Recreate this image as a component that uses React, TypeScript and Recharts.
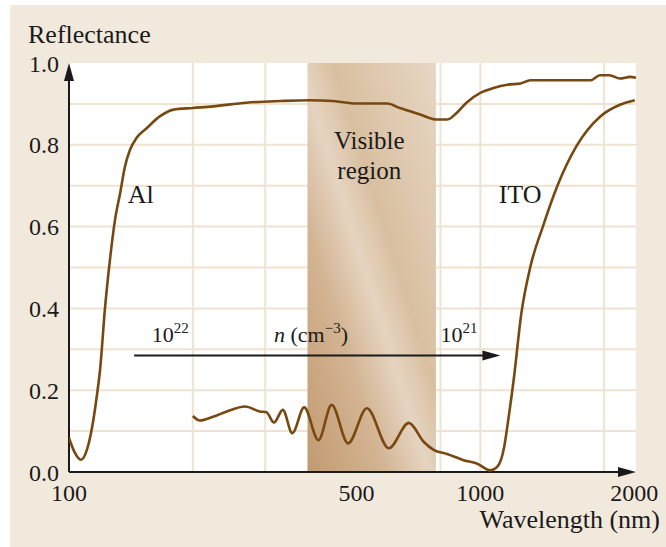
import React from "react";
import {
  LineChart,
  Line,
  XAxis,
  YAxis,
  CartesianGrid,
  ReferenceArea,
  ReferenceLine,
  ReferenceDot,
} from "recharts";

// Al reflectance: [wavelength nm, reflectance]
const alWavelength = [
  100, 103, 107, 111, 114.6, 117, 119, 122.3, 125.8, 129.4, 133.2, 136.8, 140.7,
  146, 154.6, 166.5, 179.5, 200, 224, 270, 326, 385, 439, 501, 594, 637, 675,
  714, 782, 832, 876, 925, 1000, 1077, 1163, 1253, 1323, 1487, 1855, 1953, 2060,
  2185, 2312, 2390,
];
const alReflectance = [
  0.083, 0.05, 0.03, 0.06, 0.127, 0.19, 0.25, 0.4, 0.52, 0.617, 0.683, 0.747,
  0.788, 0.817, 0.841, 0.87, 0.886, 0.89, 0.894, 0.903, 0.907, 0.909, 0.907,
  0.901, 0.901, 0.89, 0.882, 0.874, 0.862, 0.862, 0.878, 0.903, 0.927, 0.939,
  0.947, 0.95, 0.958, 0.958, 0.958, 0.97, 0.97, 0.962, 0.966, 0.964,
];

// ITO reflectance
const itoWavelength = [
  200, 208, 224, 242, 268, 291, 302, 315, 331, 349, 373, 404, 435, 477, 530, 599,
  670, 728, 770, 830, 910, 980, 1058, 1100, 1143, 1170, 1205, 1258, 1324, 1419,
  1537, 1711, 1960, 2185, 2374,
];
const itoReflectance = [
  0.137, 0.126, 0.135, 0.148, 0.16, 0.148, 0.146, 0.121, 0.152, 0.095, 0.158,
  0.078, 0.164, 0.07, 0.156, 0.058, 0.12, 0.074, 0.054, 0.044, 0.029, 0.021,
  0.004, 0.013, 0.062, 0.13, 0.225, 0.388, 0.503, 0.6, 0.698, 0.796, 0.87,
  0.898, 0.909,
];

const xTicks = [100, 500, 1000, 2000];
const yTicks = [0, 0.2, 0.4, 0.6, 0.8, 1.0];
const gridX = [200, 300, 400, 500, 600, 700, 800, 900, 1000, 2000];
const gridY = [0.1, 0.2, 0.3, 0.4, 0.5, 0.6, 0.7, 0.8, 0.9];
const visibleRange = [380, 780];
const xMax = 2390;

const alData = alWavelength.map((x, i) => ({ x, r: alReflectance[i] }));
const itoData = itoWavelength.map((x, i) => ({ x, r: itoReflectance[i] }));

const serif = "'Liberation Serif', 'DejaVu Serif', serif";
const curve = "#77480f";
const ink = "#1a1a1a";

function Arrow(props: any) {
  const { x1, y1, x2, y2 } = props;
  const dx = x2 - x1;
  const dy = y2 - y1;
  const len = Math.sqrt(dx * dx + dy * dy) || 1;
  const ux = dx / len;
  const uy = dy / len;
  const head = 18;
  const half = 5;
  const bx = x2 - ux * head;
  const by = y2 - uy * head;
  const pts = `${x2},${y2} ${bx - uy * half},${by + ux * half} ${bx + uy * half},${by - ux * half}`;
  return (
    <g>
      <line x1={x1} y1={y1} x2={bx + ux * 2} y2={by + uy * 2} stroke={ink} strokeWidth={2} />
      <polygon points={pts} fill={ink} />
    </g>
  );
}

function XTick(props: any) {
  const { x, y, payload } = props;
  const shift = payload.value === 2000 ? 30 : 0;
  return (
    <text x={x + shift} y={y + 4} dy="0.71em" textAnchor="middle" fontFamily={serif} fontSize={24} fill={ink}>
      {payload.value}
    </text>
  );
}

function YTick(props: any) {
  const { x, y, payload } = props;
  return (
    <text x={x - 2} y={y} dy="0.355em" textAnchor="end" fontFamily={serif} fontSize={24} fill={ink}>
      {Number(payload.value).toFixed(1)}
    </text>
  );
}

function note(key: string, x: number, y: number, content: React.ReactNode, anchor = "start", size = 26) {
  return (
    <ReferenceDot
      key={key}
      x={x}
      y={y}
      r={0}
      fill="none"
      stroke="none"
      ifOverflow="visible"
      label={{
        content: (p: any) => (
          <text x={p.viewBox.x} y={p.viewBox.y} textAnchor={anchor} fontFamily={serif} fontSize={size} fill={ink}>
            {content}
          </text>
        ),
      }}
    />
  );
}

export default function App() {
  return (
    <div style={{ position: "absolute", left: 0, top: 0, width: 666, height: 547, background: "#fff" }}>
      <div style={{ position: "absolute", left: 10, top: 5, width: 656, height: 542, background: "#f2e9dd" }}>
        <LineChart width={656} height={542} margin={{ top: 58, right: 30, bottom: 45, left: 0 }}>
          <defs>
            <linearGradient id="visGrad" x1="0" y1="1" x2="1" y2="0">
              <stop offset="0%" stopColor="#c29a70" />
              <stop offset="30%" stopColor="#d3b493" />
              <stop offset="47%" stopColor="#e5d4c1" />
              <stop offset="60%" stopColor="#d9bfa0" />
              <stop offset="100%" stopColor="#e7d7c5" />
            </linearGradient>
          </defs>
          <CartesianGrid
            fill="#ffffff"
            stroke="#efe2d1"
            strokeWidth={2}
            horizontalValues={gridY}
            verticalValues={gridX}
          />
          <XAxis
            type="number"
            dataKey="x"
            scale="log"
            domain={[100, xMax]}
            allowDataOverflow
            ticks={xTicks}
            tick={<XTick />}
            tickLine={false}
            axisLine={false}
            height={30}
            label={{
              content: (p: any) => (
                <text
                  x={p.viewBox.x + p.viewBox.width + 24}
                  y={p.viewBox.y + 56}
                  textAnchor="end"
                  fontFamily={serif}
                  fontSize={26}
                  fill={ink}
                >
                  Wavelength (nm)
                </text>
              ),
            }}
          />
          <YAxis
            type="number"
            domain={[0, 1]}
            ticks={yTicks}
            tick={<YTick />}
            tickLine={false}
            axisLine={false}
            width={59}
            label={{
              content: (p: any) => (
                <text x={p.viewBox.x + 18} y={p.viewBox.y - 20} fontFamily={serif} fontSize={26} fill={ink}>
                  Reflectance
                </text>
              ),
            }}
          />
          <ReferenceArea
            x1={visibleRange[0]}
            x2={visibleRange[1]}
            y1={0}
            y2={1}
            fill="url(#visGrad)"
            fillOpacity={1}
            stroke="none"
          />
          <ReferenceLine
            segment={[{ x: 100, y: 0 }, { x: xMax, y: 0 }]}
            ifOverflow="visible"
            shape={<Arrow />}
          />
          <ReferenceLine
            segment={[{ x: 100, y: 0 }, { x: 100, y: 1 }]}
            ifOverflow="visible"
            shape={<Arrow />}
          />
          <ReferenceLine
            segment={[{ x: 144, y: 0.285 }, { x: 1119, y: 0.285 }]}
            ifOverflow="visible"
            shape={<Arrow />}
          />
          <Line
            data={alData}
            dataKey="r"
            type="monotone"
            stroke={curve}
            strokeWidth={2.6}
            dot={false}
            isAnimationActive={false}
          />
          <Line
            data={itoData}
            dataKey="r"
            type="monotone"
            stroke={curve}
            strokeWidth={2.6}
            dot={false}
            isAnimationActive={false}
          />
          {note("al", 139, 0.658, "Al")}
          {note("ito", 1108, 0.658, "ITO")}
          {note("vis1", 537, 0.79, "Visible", "middle", 25)}
          {note("vis2", 537, 0.716, "region", "middle", 25)}
          {note(
            "n22",
            159,
            0.317,
            <>
              <tspan fontSize={22}>10</tspan>
              <tspan fontSize={15} dy={-9}>22</tspan>
            </>
          )}
          {note(
            "n",
            315,
            0.317,
            <>
              <tspan fontSize={22} fontStyle="italic">n</tspan>
              <tspan fontSize={22}> (cm</tspan>
              <tspan fontSize={15} dy={-9}>−3</tspan>
              <tspan fontSize={22} dy={9}>)</tspan>
            </>
          )}
          {note(
            "n21",
            800,
            0.317,
            <>
              <tspan fontSize={22}>10</tspan>
              <tspan fontSize={15} dy={-9}>21</tspan>
            </>
          )}
        </LineChart>
      </div>
    </div>
  );
}
